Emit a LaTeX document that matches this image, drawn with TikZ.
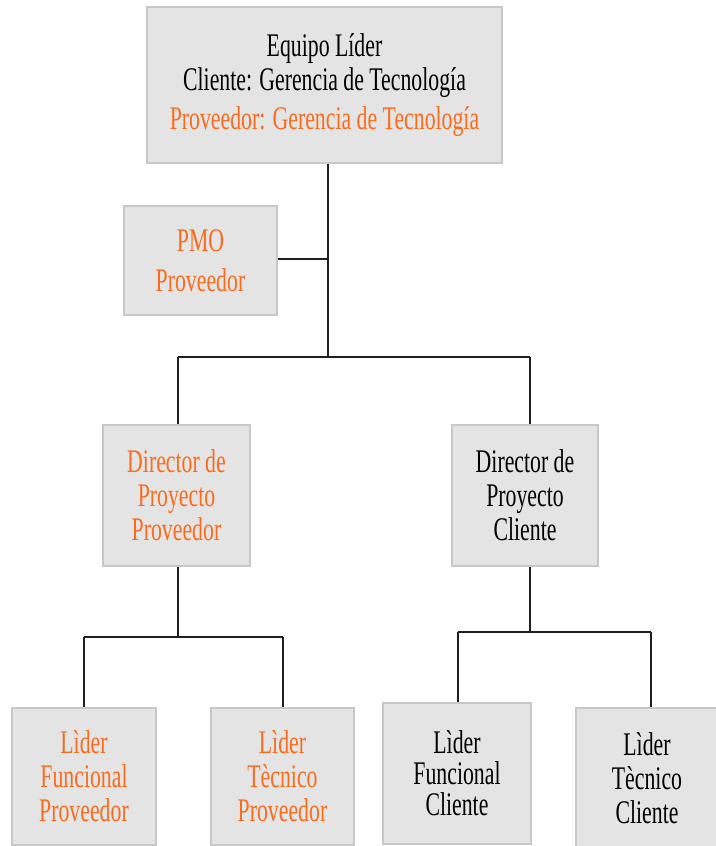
\documentclass[tikz,border=0pt]{standalone}
\usepackage{fontspec}
\setmainfont{Liberation Serif}[FakeStretch=0.66]
\definecolor{boxfill}{RGB}{228,228,228}
\definecolor{boxline}{RGB}{200,200,200}
\definecolor{prov}{RGB}{250,108,28}
\definecolor{wire}{RGB}{30,30,30}
\tikzset{
  unit/.style={draw=boxline, line width=1.5pt, fill=boxfill, align=center,
    inner sep=0pt, font=\fontsize{33}{34}\selectfont},
  provtext/.style={text=prov},
  clitext/.style={text=black},
  link/.style={draw=wire, line width=1.8pt},
}
\begin{document}
\begin{tikzpicture}[x=1pt, y=-1pt]
\useasboundingbox (0,0) rectangle (715,846);

% boxes
\node[unit, minimum width=355pt, minimum height=156pt] (lead) at (324.5,85)
  {Equipo Líder\\Cliente: Gerencia de Tecnología\\[5pt]\textcolor{prov}{Proveedor: Gerencia de Tecnología}};
\node[unit, provtext, minimum width=153pt, minimum height=109pt, font=\fontsize{33}{40}\selectfont] (pmo) at (200.5,260.5)
  {PMO\\Proveedor};
\node[unit, provtext, minimum width=147pt, minimum height=141pt] (dirP) at (176.5,495.5)
  {Director de\\Proyecto\\Proveedor};
\node[unit, clitext, minimum width=146pt, minimum height=141pt] (dirC) at (525,495.5)
  {Director de\\Proyecto\\Cliente};
\node[unit, provtext, minimum width=144pt, minimum height=137pt] (lfP) at (84,776.5)
  {Lìder\\Funcional\\Proveedor};
\node[unit, provtext, minimum width=143pt, minimum height=137pt] (ltP) at (282.5,776.5)
  {Lìder\\Tècnico\\Proveedor};
\node[unit, clitext, minimum width=148pt, minimum height=141pt, font=\fontsize{33}{31}\selectfont] (lfC) at (457,773.5)
  {Lìder\\Funcional\\Cliente};
\node[unit, clitext, minimum width=142pt, minimum height=140pt] (ltC) at (647,778)
  {Lìder\\Tècnico\\Cliente};

% junction points of the tree
\coordinate (trunk) at (328,357);
\coordinate (busL) at (178,357);
\coordinate (busR) at (530,357);
\coordinate (pmoJ) at (328,259);
\coordinate (subL) at (178,637);
\coordinate (subLa) at (84,637);
\coordinate (subLb) at (283,637);
\coordinate (subR) at (530,632);
\coordinate (subRa) at (458,632);
\coordinate (subRb) at (651,632);

% connectors
\draw[link] (lead.south -| trunk) -- (trunk);
\draw[link] (busL) -- (busR);
\draw[link] (pmo.east |- pmoJ) -- (pmoJ);
\draw[link] (busL) -- (busL |- dirP.north);
\draw[link] (busR) -- (busR |- dirC.north);
\draw[link] (subL |- dirP.south) -- (subL);
\draw[link] (subLa) -- (subLb);
\draw[link] (subLa) -- (subLa |- lfP.north);
\draw[link] (subLb) -- (subLb |- ltP.north);
\draw[link] (subR |- dirC.south) -- (subR);
\draw[link] (subRa) -- (subRb);
\draw[link] (subRa) -- (subRa |- lfC.north);
\draw[link] (subRb) -- (subRb |- ltC.north);
\end{tikzpicture}
\end{document}
